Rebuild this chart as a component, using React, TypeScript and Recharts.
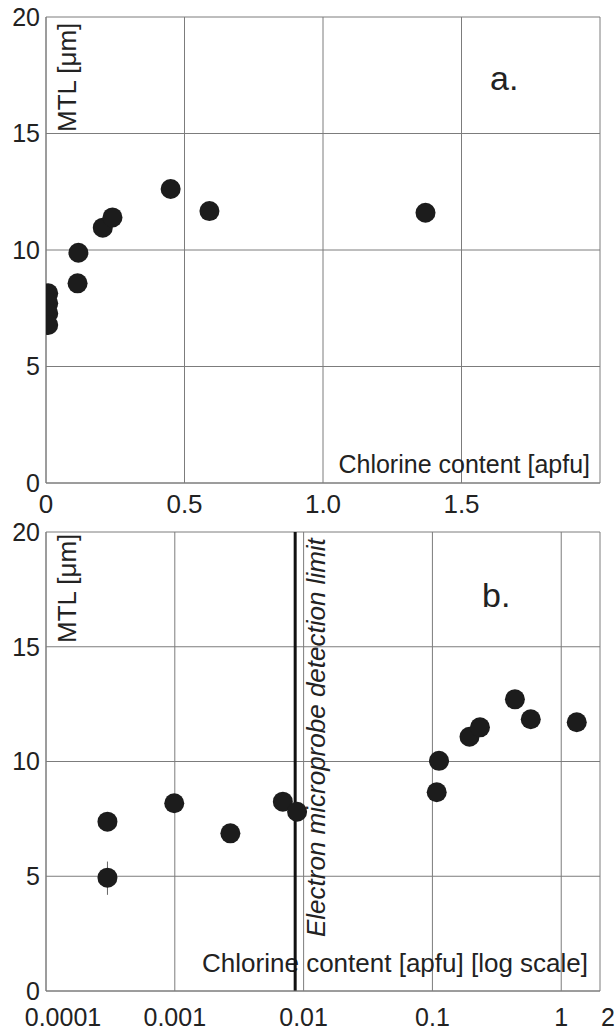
import React from 'react';
import {
  ScatterChart,
  Scatter,
  XAxis,
  YAxis,
  CartesianGrid,
  ReferenceLine,
  ErrorBar,
  Customized,
} from 'recharts';

// panel a: linear chlorine axis
const chlorineA = [0.008, 0.008, 0.008, 0.008, 0.117, 0.114, 0.205, 0.24, 0.45, 0.59, 1.37];
const mtlA = [8.14, 7.71, 7.28, 6.78, 9.88, 8.57, 10.96, 11.4, 12.62, 11.67, 11.6];
const ticksA = [0, 0.5, 1, 1.5, 2];

// panel b: log chlorine axis
const chlorineB = [0.0003, 0.00099, 0.0027, 0.0069, 0.0089, 0.108, 0.1125, 0.194, 0.234, 0.437, 0.58, 1.32];
const mtlB = [7.38, 8.18, 6.87, 8.25, 7.81, 8.66, 10.03, 11.08, 11.49, 12.71, 11.84, 11.71];
const errPointX = [0.0003];
const errPointY = [4.94];
const errPointErr: [number, number][] = [[0.75, 0.7]];
const ticksB = [0.0001, 0.001, 0.01, 0.1, 1, 2];
const detectionLimit = 0.0086;

const ticksY = [0, 5, 10, 15, 20];

const font = '"Liberation Sans", Arial, sans-serif';
const gridColor = '#7c7c7c';
const inkColor = '#1c1c1c';

const dataA = chlorineA.map((x, i) => ({ x, y: mtlA[i] }));
const dataB = chlorineB.map((x, i) => ({ x, y: mtlB[i] }));
const dataErr = errPointX.map((x, i) => ({ x, y: errPointY[i], err: errPointErr[i] }));

const yTickStyle = { fill: '#222', fontSize: 25, fontFamily: font };
const xTickStyle = { fill: '#222', fontSize: 26, fontFamily: font };

function Dot(props: any) {
  const { cx, cy } = props;
  if (cx == null || cy == null) return null;
  return <circle cx={cx} cy={cy} r={10} fill={inkColor} />;
}

function XTickB(props: any) {
  const { x, y, payload } = props;
  const dx = payload.value === 0.0001 ? 17 : payload.value === 2 ? 8 : 0;
  return (
    <text
      x={x + dx}
      y={y}
      dy="0.71em"
      textAnchor="middle"
      fill="#222"
      fontSize={25}
      fontFamily={font}
    >
      {String(payload.value)}
    </text>
  );
}

function LabelsA() {
  return (
    <g fontFamily={font} fill="#222">
      <text x={76} y={132} fontSize={26} transform="rotate(-90 76 132)">
        MTL [μm]
      </text>
      <text x={490} y={90} fontSize={34}>
        a.
      </text>
      <text x={590} y={473} fontSize={25} textAnchor="end">
        Chlorine content [apfu]
      </text>
    </g>
  );
}

function LabelsB() {
  return (
    <g fontFamily={font} fill="#222">
      <text x={76} y={125} fontSize={26} transform="rotate(-90 76 125)">
        MTL [μm]
      </text>
      <text x={482} y={89} fontSize={34}>
        b.
      </text>
      <text x={588} y={454} fontSize={26} textAnchor="end">
        Chlorine content [apfu] [log scale]
      </text>
      <text
        x={325}
        y={419}
        fontSize={26}
        fontStyle="italic"
        transform="rotate(-90 325 419)"
      >
        Electron microprobe detection limit
      </text>
    </g>
  );
}

export default function App() {
  return (
    <div
      style={{
        position: 'absolute',
        left: 0,
        top: 0,
        width: 616,
        height: 1030,
        background: '#fff',
        overflow: 'hidden',
      }}
    >
      <div style={{ position: 'absolute', left: 0, top: 0 }}>
        <ScatterChart
          width={616}
          height={518}
          margin={{ top: 17, right: 16, bottom: 0, left: 0 }}
        >
          <CartesianGrid stroke={gridColor} strokeWidth={1} />
          <XAxis
            type="number"
            dataKey="x"
            domain={[0, 2]}
            ticks={ticksA}
            allowDataOverflow
            tickFormatter={(v: number) => (v === 0 ? '0' : v === 2 ? '' : v.toFixed(1))}
            tick={xTickStyle}
            tickLine={false}
            tickSize={0}
            tickMargin={12}
            height={35}
            axisLine={{ stroke: gridColor }}
          />
          <YAxis
            type="number"
            dataKey="y"
            domain={[0, 20]}
            ticks={ticksY}
            allowDataOverflow
            tick={yTickStyle}
            tickLine={false}
            tickSize={0}
            tickMargin={6}
            width={46}
            axisLine={{ stroke: gridColor }}
          />
          <Scatter data={dataA} shape={<Dot />} isAnimationActive={false} />
          <Customized component={LabelsA} />
        </ScatterChart>
      </div>
      <div style={{ position: 'absolute', left: 0, top: 518 }}>
        <ScatterChart
          width={616}
          height={512}
          margin={{ top: 14, right: 16, bottom: 0, left: 0 }}
        >
          <CartesianGrid stroke={gridColor} strokeWidth={1} />
          <XAxis
            type="number"
            dataKey="x"
            scale="log"
            domain={[0.0001, 2]}
            ticks={ticksB}
            allowDataOverflow
            tick={<XTickB />}
            tickLine={false}
            tickSize={0}
            tickMargin={17}
            height={39}
            axisLine={{ stroke: gridColor }}
          />
          <YAxis
            type="number"
            dataKey="y"
            domain={[0, 20]}
            ticks={ticksY}
            allowDataOverflow
            tick={yTickStyle}
            tickLine={false}
            tickSize={0}
            tickMargin={6}
            width={46}
            axisLine={{ stroke: gridColor }}
          />
          <ReferenceLine x={detectionLimit} stroke="#111" strokeWidth={3} />
          <Scatter data={dataErr} shape={<Dot />} isAnimationActive={false}>
            <ErrorBar dataKey="err" direction="y" width={0} stroke="#666" strokeWidth={1} />
          </Scatter>
          <Scatter data={dataB} shape={<Dot />} isAnimationActive={false} />
          <Customized component={LabelsB} />
        </ScatterChart>
      </div>
    </div>
  );
}
